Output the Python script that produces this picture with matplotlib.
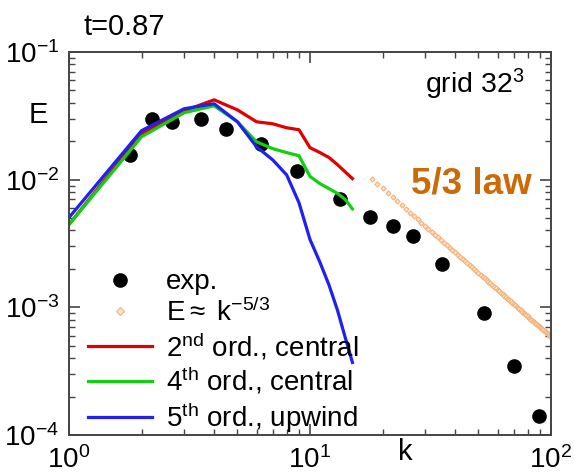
import numpy as np
import matplotlib
matplotlib.use("Agg")
import matplotlib.pyplot as plt
from matplotlib.ticker import LogLocator, NullFormatter

plt.rcParams["font.family"] = ["Liberation Sans", "DejaVu Sans"]
plt.rcParams["mathtext.fontset"] = "custom"
plt.rcParams["mathtext.rm"] = "Liberation Sans"
plt.rcParams["mathtext.it"] = "Liberation Sans"
plt.rcParams["mathtext.default"] = "regular"
plt.rcParams["axes.unicode_minus"] = False

# measured spectrum
k_exp = [1.79, 2.21, 2.67, 3.53, 4.48, 6.26, 8.83, 13.3, 17.7, 22.1, 26.8, 35.3, 52.7, 70.2, 89.2]
E_exp = [0.0157, 0.030, 0.0284, 0.030, 0.025, 0.0191, 0.0117, 0.0071, 0.0051, 0.0043,
         0.0036, 0.00217, 0.00091, 0.00035, 0.00014]

# simulated spectra, grid 32^3
k_sim = [1, 2, 3, 4, 5, 6, 7, 8, 9, 10, 11, 12, 13, 14, 15]
E_2nd = [0.00445, 0.0229, 0.0346, 0.0422, 0.0352, 0.0284, 0.0274, 0.0255, 0.0246,
         0.0178, 0.0163, 0.0149, 0.0131, 0.0115, 0.0102]
E_4th = [0.00445, 0.0217, 0.0334, 0.0379, 0.0284, 0.0198, 0.0175, 0.0163, 0.0154,
         0.0106, 0.0093, 0.0085, 0.0078, 0.0070, 0.0059]
E_5th = [0.00505, 0.0242, 0.0359, 0.0393, 0.0284, 0.0181, 0.0143, 0.0109, 0.0066,
         0.0034, 0.00225, 0.00149, 0.00095, 0.00058, 0.00037]

# Kolmogorov slope
k_law = np.arange(18, 101)
C_law = 1.26
E_law = C_law * k_law ** (-5.0 / 3.0)

fig = plt.figure(figsize=(5.74, 4.73), dpi=100)
ax = fig.add_axes([69 / 574, 38 / 473, 482 / 574, 383 / 473])

ax.plot(k_exp, E_exp, "o", color="black", ms=9.5, label="exp.")
ax.plot(k_law, E_law, "D", ms=2.6, mfc="#fde2c8", mec="#f5b27a", mew=0.8,
        linestyle="none", label=r"E$\approx$ k$^{-5/3}$")
ax.plot(k_sim, E_2nd, color="#e00000", lw=2.3, label="2$^{nd}$ ord., central")
ax.plot(k_sim, E_4th, color="#10d010", lw=2.3, label="4$^{th}$ ord., central")
ax.plot(k_sim, E_5th, color="#2020f0", lw=2.3, label="5$^{th}$ ord., upwind")

ax.set_xscale("log")
ax.set_yscale("log")
ax.set_xlim(1, 100)
ax.set_ylim(1e-4, 1e-1)

ax.xaxis.set_minor_locator(LogLocator(base=10, subs=np.arange(2, 10)))
ax.yaxis.set_minor_locator(LogLocator(base=10, subs=np.arange(2, 10)))
ax.xaxis.set_minor_formatter(NullFormatter())
ax.yaxis.set_minor_formatter(NullFormatter())
ax.tick_params(which="both", direction="in", top=True, right=True, color="#444444",
               labelsize=20)
ax.tick_params(which="major", length=8, width=1.2)
ax.tick_params(which="minor", length=4, width=1.0)
ax.tick_params(axis="x", pad=8)
ax.tick_params(axis="y", pad=7)
for sp in ax.spines.values():
    sp.set_color("#444444")
    sp.set_linewidth(1.4)

fig.text(38 / 574, 1 - 115 / 473, "E", fontsize=21, ha="center", va="center")
fig.text(405 / 574, 1 - 452 / 473, "k", fontsize=21, ha="center", va="center")
fig.text(83 / 574, 1 - 35 / 473, "t=0.87", fontsize=21, ha="left", va="baseline")
ax.text(0.945, 0.915, "grid 32$^3$", transform=ax.transAxes, fontsize=20.5,
        ha="right", va="center")
ax.text(0.96, 0.655, "5/3 law", transform=ax.transAxes, fontsize=26.5,
        fontweight="bold", color="#cc6a08", ha="right", va="center")

leg = ax.legend(loc="lower left", bbox_to_anchor=(0.0, -0.05), frameon=False,
                fontsize=20, handlelength=2.3, handletextpad=0.5,
                labelspacing=0.12, borderaxespad=0.3)
leg.legend_handles[1].set_markersize(4)

fig.savefig("out.png", dpi=100)
